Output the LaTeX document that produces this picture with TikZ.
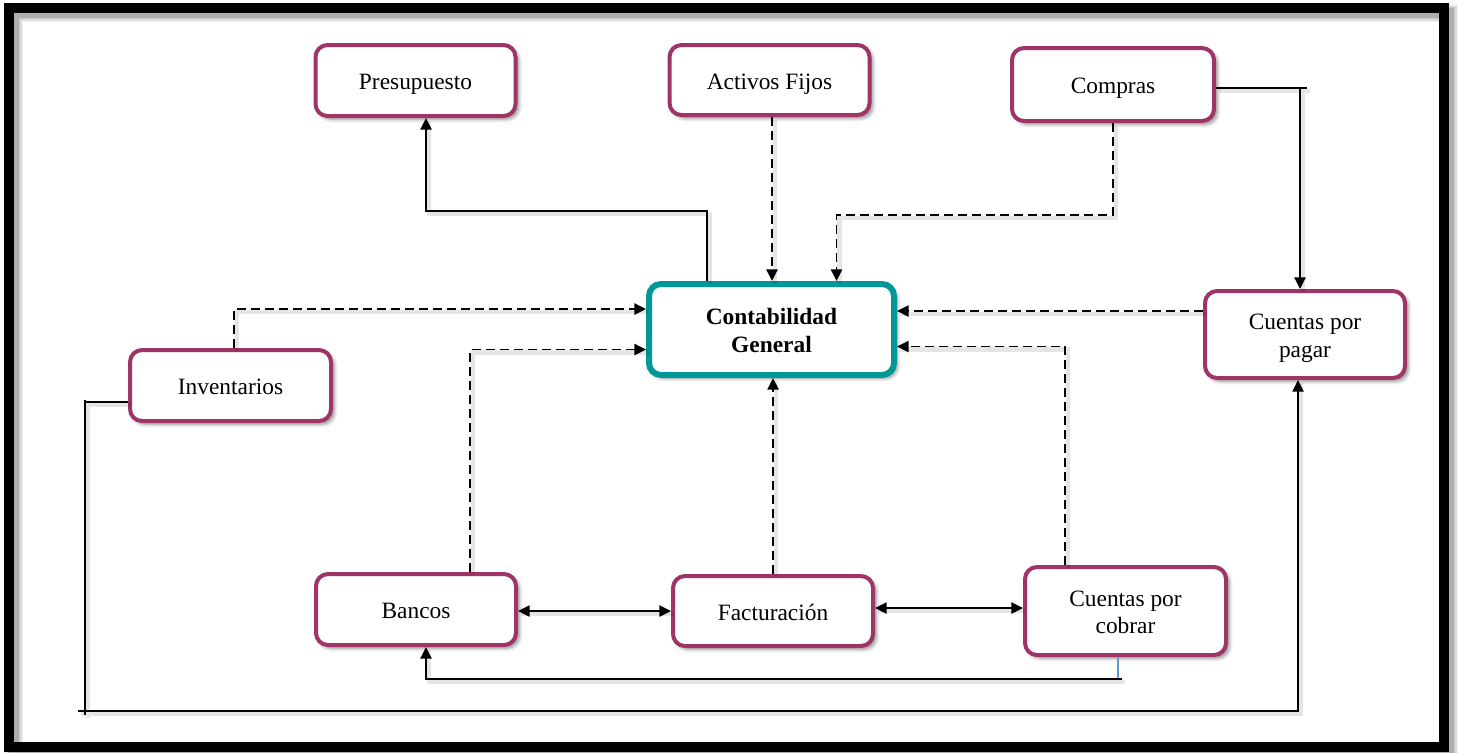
\documentclass[tikz,border=0pt]{standalone}
\usepackage{fontspec}
\setmainfont{Liberation Serif}
\usetikzlibrary{arrows.meta,calc,shadows.blur}

\definecolor{plum}{RGB}{158,52,104}
\definecolor{tealc}{RGB}{0,152,150}
\definecolor{linkblue}{RGB}{91,155,213}

\newcommand{\twolines}[2]{\begin{tabular}[t]{@{}c@{}}#1\\#2\end{tabular}}

\tikzset{
  box/.style={rectangle, rounded corners=6pt, draw=plum, line width=2pt, fill=white,
    minimum width=100pt, minimum height=35.5pt, inner sep=2pt,
    text height=10pt, text depth=1pt,
    font=\fontsize{11.7}{13.8}\selectfont,
    blur shadow={shadow xshift=1.6pt, shadow yshift=-1.6pt, shadow blur steps=6, shadow opacity=45}},
  twobox/.style={box, text height=8pt, text depth=13pt},
  mainbox/.style={twobox, draw=tealc, line width=3pt, minimum width=122.5pt, minimum height=45.5pt},
  ln/.style={line width=0.8pt, black,
    preaction={draw, arrows=-, black, opacity=0.10, line width=2.2pt,
      transform canvas={shift={(1.4pt,-1.4pt)}}}},
  dln/.style={ln, dash pattern=on 4.5pt off 2.5pt},
  tip/.style={-{Triangle[length=5.8pt,width=5.6pt]}},
  tips/.style={{Triangle[length=5.8pt,width=5.6pt]}-{Triangle[length=5.8pt,width=5.6pt]}},
}

\begin{document}
\begin{tikzpicture}[x=0.5pt,y=-0.5pt]
\useasboundingbox (0,0) rectangle (1460,752);

% outer frame with its soft shadow
\foreach \w/\o in {18/0.06,15/0.08,12/0.10,10/0.12}{
  \draw[line width=\w*0.5pt, black, opacity=\o] (14,13) rectangle (1449,752);
}
\draw[line width=5pt] (9,8) rectangle (1444,747);

% modules
\node[box] (pres) at (415.5,80.5) {Presupuesto};
\node[box, minimum height=35pt] (af) at (769.5,80) {Activos Fijos};
\node[box, minimum width=101pt, minimum height=36.5pt] (comp) at (1113,84.5) {Compras};
\node[mainbox] (cg) at (771.5,329.5) {\bfseries\twolines{Contabilidad}{General}};
\node[twobox, minimum height=43.5pt] (cpp) at (1305,334.5) {\twolines{Cuentas por}{pagar}};
\node[box, minimum width=100.5pt] (inv) at (230.5,385.5) {Inventarios};
\node[box] (ban) at (416,609.5) {Bancos};
\node[box, minimum height=35pt] (fac) at (773,611) {Facturación};
\node[twobox, minimum width=100.5pt, minimum height=44pt] (cpc) at (1125.5,611) {\twolines{Cuentas por}{cobrar}};

% Contabilidad -> Presupuesto
\draw[ln,tip] ($(cg.north)+(-64.5,0)$) -- ++(0,-70) -| ($(pres.south)+(10.5,0)$);
% Activos Fijos -> Contabilidad
\draw[dln,tip] ($(af.south)+(2.5,0)$) -- ($(cg.north)+(0.5,0)$);
% Compras -> Contabilidad
\draw[dln,tip] (comp.south) -- ++(0,92) -| ($(cg.north)+(65,0)$);
% Compras -> Cuentas por pagar (the corner overshoots a little)
\coordinate (c1) at ($(comp.east)+(0,3.5)$);
\coordinate (c2) at ($(cpp.north)+(-5,0)$);
\draw[ln,tip] (c1) -- ++(91,0) (c1 -| c2) -- (c2);
% Cuentas por pagar -> Contabilidad
\coordinate (a5) at ($(cpp.west)+(0,-23.5)$);
\draw[dln,tip] (a5) -- (a5 -| cg.east);
% Cuentas por cobrar -> Contabilidad
\draw[dln,tip] ($(cpc.north)+(-60.5,0)$) |- ($(cg.east)+(0,17)$);
% Facturacion -> Contabilidad
\draw[dln,tip] (fac.north) -- (fac.north |- cg.south);
% Bancos -> Contabilidad
\draw[dln,tip] ($(ban.north)+(54,0)$) |- ($(cg.west)+(0,20)$);
% Inventarios -> Contabilidad
\draw[dln,tip] ($(inv.north)+(3.5,0)$) |- ($(cg.west)+(0,-20.5)$);
% Bancos <-> Facturacion
\draw[ln,tips] (ban.east |- fac.west) -- (fac.west);
% Facturacion <-> Cuentas por cobrar
\coordinate (a11) at ($(fac.east)+(0,-3)$);
\draw[ln,tips] (a11) -- (a11 -| cpc.west);
% Cuentas por cobrar -> Bancos
\draw[linkblue, line width=0.6pt] ($(cpc.south)+(-7.5,0)$) -- ++(0,22);
\draw[ln,tip] ($(cpc.south)+(-3.5,22)$) -| ($(ban.south)+(10,0)$);
% Inventarios -> Cuentas por pagar (corners overshoot a little)
\coordinate (i1) at ($(inv.west)+(0,16.5)$);
\coordinate (i2) at ($(cpp.south)+(-7,0)$);
\draw[ln,tip] (i1) -- ++(-44,0)
  ($(i1)+(-43,-2)$) -- ++(0,315)
  ($(i1)+(-50,309)$) -| (i2);
\end{tikzpicture}
\end{document}
